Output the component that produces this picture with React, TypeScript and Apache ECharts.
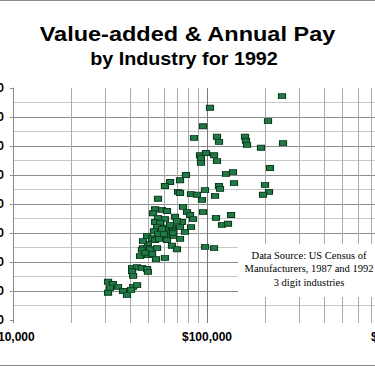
import React, { useEffect, useRef } from "react";
import * as echarts from "echarts";

// Value added per employee ($, log scale) and annual pay per employee ($)
const valueAdded = [
  243600, 103600, 206300, 95400, 85700, 112600, 115300, 157000, 158900, 160800,
  189800, 246500, 92000, 98800, 93100, 93100, 108700, 112600, 211200, 125300,
  136100, 77900, 72600, 64500, 60700, 137800, 115300, 116700, 199100, 208800,
  194400, 97700, 110000, 70900, 82700, 88800, 94200, 55900, 54000, 58600,
  62200, 75200, 78900, 81800, 84700, 95400, 111300, 133000, 119500, 128300,
  68400, 60700, 74300, 66000, 63700, 66800, 82700, 77000, 62900, 72600,
  66000, 70000, 97700, 108700, 60700, 52700, 55900, 54000, 57300, 55300,
  60700, 64500, 53300, 49100, 55900, 60000, 66800, 52100, 54000, 56600,
  62200, 49600, 46800, 49100, 46200, 50800, 55300, 45200, 49600, 52100,
  54600, 41100, 43600, 46200, 49100, 41100, 49600, 41600, 30900, 32700,
  34800, 36900, 31600, 38700, 41600, 43600, 30900, 40600, 70000, 72600,
  66800, 46800, 58600, 47900, 72600,
];
const annualPay = [
  48600, 46600, 44300, 43400, 41400, 41600, 40700, 41600, 40900, 40200,
  39700, 40500, 38400, 38800, 37900, 37100, 38400, 37400, 36200, 35200,
  35500, 35000, 34100, 33800, 33100, 33600, 33100, 32600, 33300, 32100,
  31600, 32400, 31400, 32100, 31700, 31600, 30700, 30900, 29100, 29000,
  28800, 29500, 28600, 28100, 27400, 28600, 27600, 28100, 26400, 26600,
  27800, 27400, 26900, 26000, 25300, 25300, 26000, 25200, 24500, 24000,
  22800, 22200, 22600, 22400, 20700, 28400, 27600, 26900, 26700, 26000,
  25900, 26400, 25300, 24500, 24800, 24800, 24500, 24100, 23800, 24000,
  23800, 23100, 22400, 22400, 22100, 22200, 22400, 21000, 21200, 21400,
  20500, 19000, 19100, 19000, 18800, 18400, 18300, 17600, 16600, 16200,
  15700, 15000, 15500, 14300, 15700, 16000, 14700, 15200, 27100, 26000,
  25000, 23600, 25700, 21600, 31900,
];
const minorGridX = [
  20000, 30000, 40000, 50000, 60000, 70000, 80000, 90000,
  200000, 300000, 400000, 500000, 600000, 700000, 800000, 900000,
];
const titleLines = ["Value-added & Annual Pay", "by Industry for 1992"];
const noteLines = [
  "Data Source: US Census of",
  "Manufacturers, 1987 and 1992",
  "3 digit industries",
];

const OFF = 60;
const W = 375 + 2 * OFF;
const SANS = "'Liberation Sans', Arial, sans-serif";
const SERIF = "'Liberation Serif', 'Times New Roman', serif";

export default function App() {
  const ref = useRef<HTMLDivElement>(null);
  useEffect(() => {
    const chart = echarts.init(ref.current!, null, { renderer: "svg" });
    const money = (v: number) => "$" + Math.round(v).toLocaleString("en-US");
    const labelStyle = {
      formatter: money,
      fontFamily: SANS,
      fontWeight: "bold" as const,
      fontSize: 12,
      color: "#000",
    };
    chart.setOption({
      animation: false,
      backgroundColor: "#ffffff",
      grid: [
        { left: OFF + 13, right: W - (OFF + 401), top: 88, bottom: 46 },
        { left: OFF + 13, right: W - (OFF + 401), top: 88, bottom: 43 },
      ],
      xAxis: [
        {
          type: "log",
          logBase: 10,
          min: 10000,
          max: 1000000,
          gridIndex: 0,
          axisLine: { show: false },
          axisTick: { show: false },
          splitLine: { show: false },
          axisLabel: { ...labelStyle, margin: 11 },
        },
        {
          type: "log",
          logBase: 10,
          min: 10000,
          max: 1000000,
          gridIndex: 1,
          axisLine: { show: false },
          axisTick: { show: false },
          axisLabel: { show: false },
          splitLine: {
            show: true,
            showMinLine: true,
            showMaxLine: true,
            lineStyle: { color: "#7a7a7a", width: 1 },
          },
        },
      ],
      yAxis: [
        {
          type: "value",
          min: 10000,
          max: 50000,
          interval: 5000,
          gridIndex: 0,
          axisLine: { show: true, lineStyle: { color: "#8c8c8c" } },
          axisTick: { show: true, length: 3, lineStyle: { color: "#8c8c8c" } },
          axisLabel: { ...labelStyle, margin: 9 },
          splitLine: {
            show: true,
            showMinLine: false,
            showMaxLine: false,
            lineStyle: { color: "#8c8c8c", width: 1 },
          },
          minorTick: { show: false, splitNumber: 2 },
          minorSplitLine: { show: true, lineStyle: { color: "#c8c8c8", width: 1 } },
        },
        { type: "value", min: 0, max: 1, gridIndex: 1, show: false },
      ],
      series: [
        {
          type: "scatter",
          xAxisIndex: 1,
          yAxisIndex: 1,
          data: [],
          z: 1,
          silent: true,
          markLine: {
            silent: true,
            z: 1,
            symbol: ["none", "none"],
            label: { show: false },
            lineStyle: { color: "#ababab", width: 1, type: "solid" },
            emphasis: { disabled: true },
            data: minorGridX.map((v) => ({ xAxis: v })),
          },
        },
        {
          type: "scatter",
          xAxisIndex: 0,
          yAxisIndex: 0,
          z: 3,
          symbol: "rect",
          symbolSize: [7, 5],
          itemStyle: { color: "#1f7a45", borderColor: "#0c3b1f", borderWidth: 1, opacity: 1 },
          data: valueAdded.map((v, i) => [v, annualPay[i]]),
        },
      ],
      graphic: [
        {
          type: "rect",
          z: 20,
          shape: { x: OFF, y: 0, width: 375, height: 1 },
          style: { fill: "#8a8a8a" },
        },
        {
          type: "rect",
          z: 20,
          shape: { x: OFF, y: 365, width: 375, height: 1 },
          style: { fill: "#8a8a8a" },
        },
        {
          type: "text",
          z: 20,
          x: OFF + 187.5,
          y: 34.2,
          scaleX: 1.12,
          style: {
            text: titleLines[0],
            fontFamily: SANS,
            fontWeight: "bold",
            fontSize: 21,
            fill: "#000",
            align: "center",
            verticalAlign: "middle",
          },
        },
        {
          type: "text",
          z: 20,
          x: OFF + 184,
          y: 58.3,
          scaleX: 1.04,
          style: {
            text: titleLines[1],
            fontFamily: SANS,
            fontWeight: "bold",
            fontSize: 19,
            fill: "#000",
            align: "center",
            verticalAlign: "middle",
          },
        },
        {
          type: "rect",
          z: 10,
          shape: { x: OFF + 238, y: 244, width: 200, height: 53 },
          style: { fill: "#ffffff" },
        },
        {
          type: "text",
          z: 11,
          x: OFF + 309,
          y: 268.5,
          style: {
            text: noteLines.join("\n"),
            fontFamily: SERIF,
            fontSize: 10.5,
            lineHeight: 13.5,
            fill: "#000",
            align: "center",
            verticalAlign: "middle",
          },
        },
      ],
    });
    return () => chart.dispose();
  }, []);
  return (
    <div
      style={{
        position: "fixed",
        left: 0,
        top: 0,
        width: 375,
        height: 366,
        overflow: "hidden",
        background: "#fff",
      }}
    >
      <div ref={ref} style={{ position: "absolute", left: -OFF, top: 0, width: W, height: 366 }} />
    </div>
  );
}
